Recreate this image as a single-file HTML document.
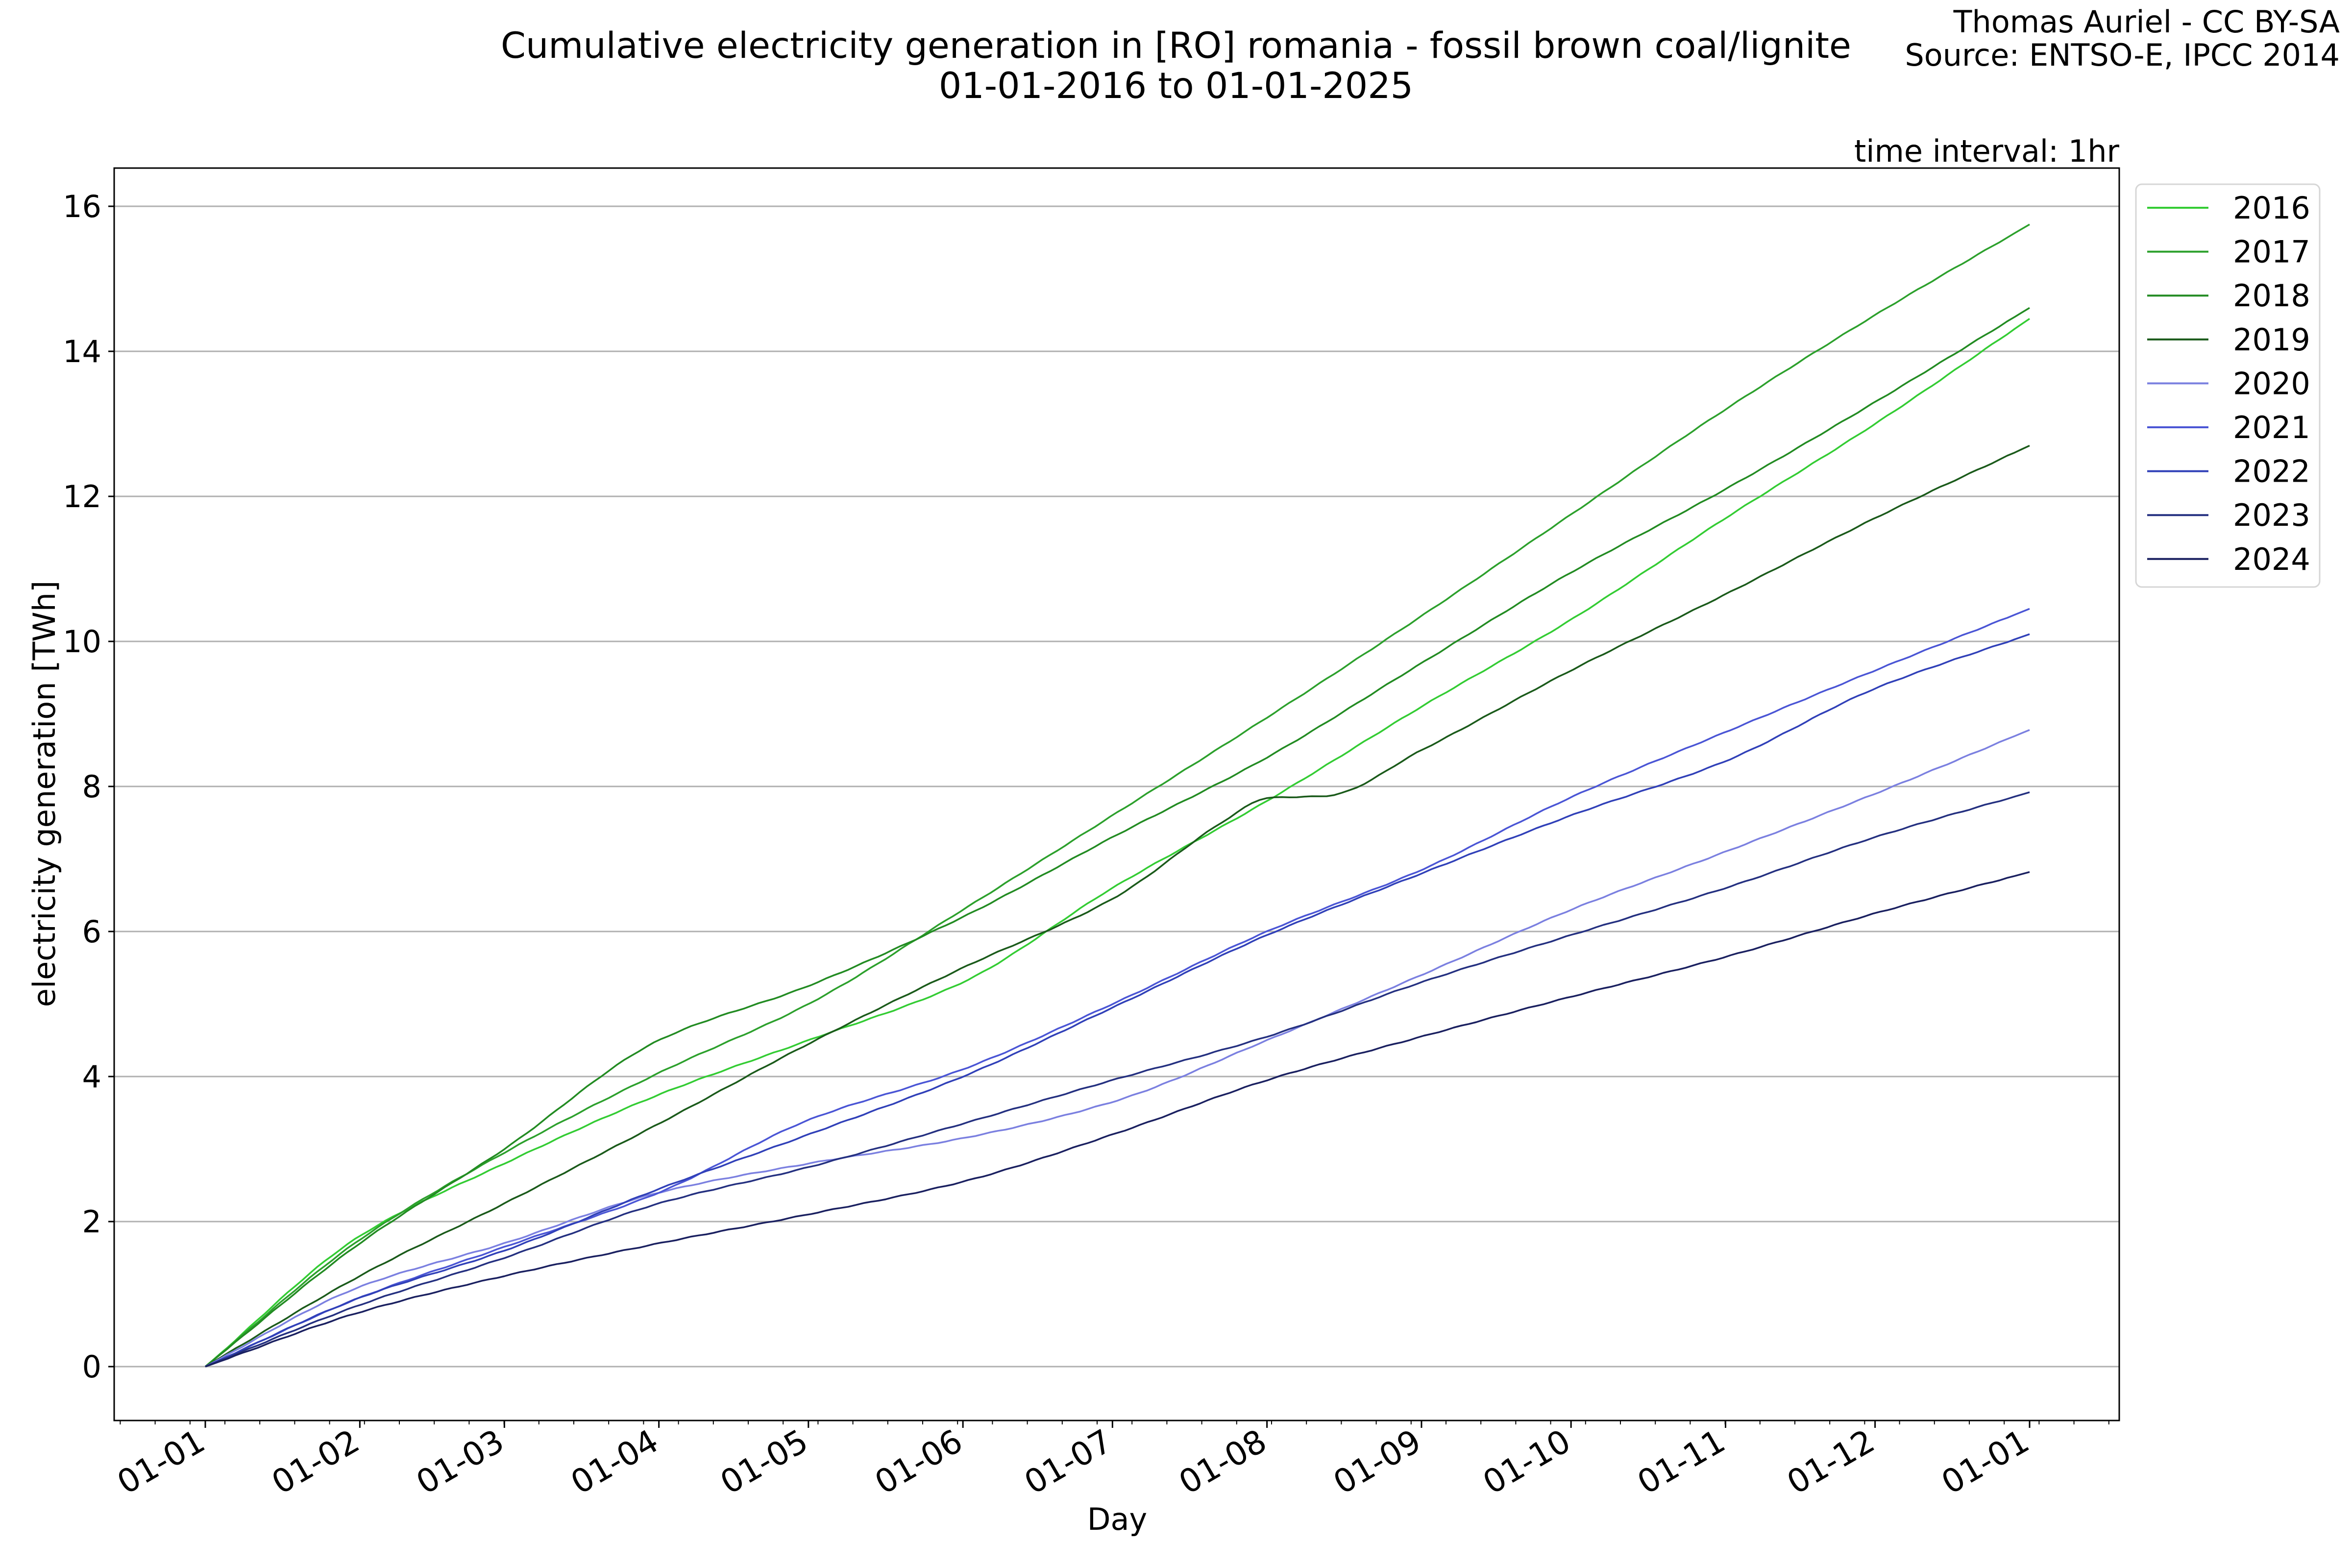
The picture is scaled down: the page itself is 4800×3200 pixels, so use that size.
<!DOCTYPE html>
<html><head><meta charset="utf-8"><style>
html,body{margin:0;padding:0;background:#fff;}
svg{display:block;font-family:"DejaVu Sans","Liberation Sans",sans-serif;}
</style></head><body>
<svg id="s" width="4800" height="3200" viewBox="0 0 4800 3200" xmlns="http://www.w3.org/2000/svg">
<rect width="4800" height="3200" fill="#fff"/>
<g id="grid"></g>
<g id="series" fill="none" stroke-width="3.5" stroke-linejoin="round"></g>
<rect x="233" y="343" width="4092" height="2556" fill="none" stroke="#000" stroke-width="3"/>
<g id="ticks" stroke="#000"></g>
<g id="labels" font-size="62" fill="#000"></g>
<text x="2400" y="118" font-size="73" text-anchor="middle">Cumulative electricity generation in [RO] romania - fossil brown coal/lignite</text>
<text x="2400" y="200" font-size="73" text-anchor="middle">01-01-2016 to 01-01-2025</text>
<text x="4775" y="66" font-size="62" text-anchor="end">Thomas Auriel - CC BY-SA</text>
<text x="4775" y="134" font-size="62" text-anchor="end">Source: ENTSO-E, IPCC 2014</text>
<text x="4325" y="330" font-size="62" text-anchor="end">time interval: 1hr</text>
<text x="2280" y="3122" font-size="62" text-anchor="middle">Day</text>
<text transform="translate(112,1620) rotate(-90)" font-size="62" text-anchor="middle">electricity generation [TWh]</text>
<rect x="4359" y="376" width="375" height="822" rx="12" fill="#fff" stroke="#d6d6d6" stroke-width="3"/>
<g id="legend" font-size="62"></g>
</svg>
<script>
const NS="http://www.w3.org/2000/svg";
function el(p,t,a,txt){const e=document.createElementNS(NS,t);for(const k in a)e.setAttribute(k,a[k]);if(txt!==undefined)e.textContent=txt;p.appendChild(e);return e;}
const x0=419,x1=4142,Y=v=>2789-v*148;
const X=d=>x0+d/366*(x1-x0);
const g=document.getElementById('grid'),tk=document.getElementById('ticks'),lb=document.getElementById('labels');
for(let v=0;v<=16;v+=2){const y=Y(v);el(g,'line',{x1:233,x2:4325,y1:y,y2:y,stroke:'#b0b0b0','stroke-width':3});
el(tk,'line',{x1:221,x2:233,y1:y,y2:y,'stroke-width':3});
el(lb,'text',{x:207,y:y+22,'text-anchor':'end'},String(v));}
const md=[0,31,60,91,121,152,182,213,244,274,305,335,366];
md.forEach((d,i)=>{const x=X(d);el(tk,'line',{x1:x,x2:x,y1:2899,y2:2914,'stroke-width':3});
el(lb,'text',{transform:`translate(${x+4},${2955}) rotate(-30)`,'text-anchor':'end','font-size':66},'01-'+String((i%12)+1).padStart(2,'0'));});
for(let k=-3;k<60;k++){const x=x0+40+71.2*k;if(x<236||x>4322)continue;el(tk,'line',{x1:x,x2:x,y1:2899,y2:2907,'stroke-width':2});}
function K(vals){return vals.map((v,i)=>[md[i],v]);}
const S=[
['2016','#33cc33',K([0,1.8,2.8,3.75,4.5,5.3,6.6,7.8,9.1,10.3,11.7,13.0,14.45])],
['2017','#2ca02c',K([0,1.75,2.95,4.05,5.0,6.3,7.6,8.95,10.35,11.75,13.2,14.5,15.75])],
['2018','#228b22',K([0,1.7,3.0,4.5,5.25,6.2,7.3,8.4,9.7,10.95,12.1,13.3,14.6])],
['2019','#1a5a1a',[[0,0],[31,1.25],[60,2.25],[91,3.35],[121,4.45],[152,5.5],[182,6.45],[205,7.55],[213,7.84],[225,7.87],[244,8.5],[274,9.6],[305,10.65],[335,11.7],[366,12.7]]],
['2020','#7b80e0',K([0,1.1,1.7,2.4,2.8,3.15,3.65,4.5,5.4,6.3,7.1,7.9,8.78])],
['2021','#4a55d5',K([0,0.95,1.65,2.4,3.4,4.1,5.0,6.0,6.85,7.85,8.75,9.6,10.45])],
['2022','#3040b8',K([0,0.95,1.6,2.45,3.2,4.0,4.95,5.95,6.8,7.6,8.35,9.35,10.1])],
['2023','#243080',K([0,0.85,1.5,2.25,2.75,3.35,3.95,4.55,5.3,5.95,6.6,7.3,7.92])],
['2024','#1a2060',K([0,0.75,1.25,1.7,2.1,2.55,3.2,3.95,4.55,5.1,5.65,6.25,6.82])]];
function interp(k,d){let m=0;while(m<k.length-2&&k[m+1][0]<d)m++;
const [xa,ya]=k[m],[xb,yb]=k[m+1];const h=xb-xa,t=(d-xa)/h;
const sl=j=>{if(j<=0)return (k[1][1]-k[0][1])/(k[1][0]-k[0][0]);if(j>=k.length-1){const n=k.length-1;return (k[n][1]-k[n-1][1])/(k[n][0]-k[n-1][0]);}
const s1=(k[j][1]-k[j-1][1])/(k[j][0]-k[j-1][0]),s2=(k[j+1][1]-k[j][1])/(k[j+1][0]-k[j][0]);return (s1>0&&s2>0)?2*s1*s2/(s1+s2):0;};
const ma=sl(m)*h,mb=sl(m+1)*h,t2=t*t,t3=t2*t;
return (2*t3-3*t2+1)*ya+(t3-2*t2+t)*ma+(-2*t3+3*t2)*yb+(t3-t2)*mb;}
const sg=document.getElementById('series'),lg=document.getElementById('legend');
S.forEach((s,i)=>{let pts=[];
for(let d=0;d<=366;d+=1.5){const wob=Math.sin(d*0.9+i)*0.005;let v=interp(s[2],d)+(d>3&&d<363?wob:0);
pts.push(X(d).toFixed(1)+','+Y(v).toFixed(1));}
el(sg,'polyline',{points:pts.join(' '),stroke:s[1]});
const y=424+i*89.6;el(lg,'line',{x1:4382,x2:4507,y1:y,y2:y,stroke:s[1],'stroke-width':4});
el(lg,'text',{x:4557,y:y+22},s[0]);});
</script>
</body></html>
